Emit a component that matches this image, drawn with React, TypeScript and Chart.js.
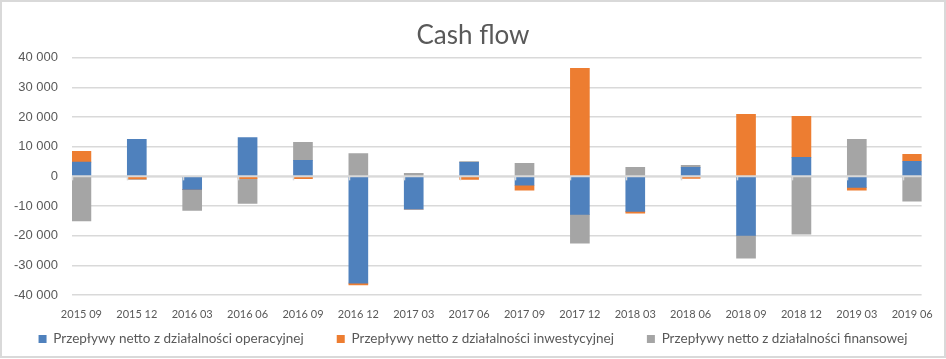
import React, { useEffect, useRef } from "react";
import { Chart, registerables } from "chart.js";

Chart.register(...registerables);

const categories = [
  "2015 09", "2015 12", "2016 03", "2016 06", "2016 09", "2016 12", "2017 03", "2017 06",
  "2017 09", "2017 12", "2018 03", "2018 06", "2018 09", "2018 12", "2019 03", "2019 06",
];
const operating = [4800, 12500, -4400, 13100, 5400, -36000, -11100, 4700, -3000, -12800, -11800, 3000, -19900, 6400, -3700, 5100];
const investing = [3600, -900, 0, -800, -800, -600, 0, -1000, -1700, 36400, -600, -700, 20900, 13800, -1000, 2300];
const financing = [-15000, -100, -7100, -8300, 6100, 7700, 1000, 300, 4400, -9700, 3000, 700, -7700, -19500, 12500, -8400];
const seriesNames = [
  "Przepływy netto z działalności operacyjnej",
  "Przepływy netto z działalności inwestycyjnej",
  "Przepływy netto z działalności finansowej",
];
const yTicks = [-40000, -30000, -20000, -10000, 0, 10000, 20000, 30000, 40000];

const colors = ["#4F81BD", "#ED7D31", "#A5A5A5"];
const textColor = "#595959";
const gridColor = "#D9D9D9";

function fmt(v: number): string {
  const s = String(Math.abs(v)).replace(/\B(?=(\d{3})+(?!\d))/g, " ");
  return v < 0 ? "-" + s : s;
}

const LEGEND_SHIFT = 35;

const layoutPlugin = {
  id: "excelLayout",
  afterLayout(chart: any) {
    const lg = chart.legend;
    if (lg) {
      lg.top -= LEGEND_SHIFT;
      lg.bottom -= LEGEND_SHIFT;
    }
  },
  afterDatasetsDraw(chart: any) {
    const { ctx, chartArea, scales } = chart;
    const y = scales.y.getPixelForValue(0);
    ctx.save();
    ctx.strokeStyle = gridColor;
    ctx.lineWidth = 2;
    ctx.beginPath();
    ctx.moveTo(chartArea.left, y);
    ctx.lineTo(chartArea.right, y);
    ctx.stroke();
    ctx.lineWidth = 1.5;
    categories.forEach((_, i) => {
      const x = Math.round(scales.x.getPixelForValue(i) - 9.5) + 0.5;
      ctx.beginPath();
      ctx.moveTo(x, y);
      ctx.lineTo(x, y + 4);
      ctx.stroke();
    });
    ctx.restore();
  },
};

export default function App() {
  const ref = useRef<HTMLCanvasElement>(null);
  useEffect(() => {
    if (!ref.current) return;
    const series = [operating, investing, financing];
    const chart = new Chart(ref.current, {
      type: "bar",
      data: {
        datasets: series.map((arr, k) => ({
          label: seriesNames[k],
          data: arr.map((y, i) => ({ x: i, y })),
          backgroundColor: colors[k],
          borderWidth: 0,
          barThickness: 19,
        })),
      },
      plugins: [layoutPlugin],
      options: {
        animation: false,
        responsive: false,
        devicePixelRatio: 1,
        layout: { padding: { left: 0, right: 0, top: 0, bottom: -31.7 } },
        plugins: {
          title: {
            display: true,
            text: "Cash flow",
            color: textColor,
            font: { family: "Lato", size: 26, weight: "normal" },
            padding: { top: 20, bottom: 6.5 },
          },
          legend: {
            position: "bottom",
            labels: {
              color: textColor,
              font: { family: "Lato", size: 13.5 },
              boxWidth: 8,
              boxHeight: 8,
              padding: 33,
            },
          },
          tooltip: { enabled: false },
        },
        scales: {
          x: {
            type: "linear",
            stacked: true,
            offset: false,
            min: -0.17,
            max: 15.17,
            grid: { display: false, drawTicks: false },
            border: { display: false },
            afterBuildTicks: (axis: any) => {
              axis.ticks = categories.map((_, i) => ({ value: i }));
            },
            ticks: {
              autoSkip: false,
              maxRotation: 0,
              padding: 13,
              color: textColor,
              font: { family: "Lato", size: 11 },
              callback: (v: any) => categories[v] ?? "",
            },
          },
          y: {
            stacked: true,
            min: -40000,
            max: 40000,
            afterBuildTicks: (axis: any) => {
              axis.ticks = yTicks.map((v) => ({ value: v }));
            },
            afterFit: (axis: any) => {
              axis.width = 72;
            },
            grid: { color: gridColor, lineWidth: 1.5, drawTicks: false },
            border: { display: false },
            ticks: {
              padding: 14,
              color: textColor,
              font: { family: "'Liberation Sans'", size: 13 },
              callback: (v: any) => fmt(Number(v)),
            },
          },
          yRight: {
            position: "right",
            display: true,
            grid: { display: false, drawTicks: false },
            border: { display: false },
            ticks: { display: false },
            afterFit: (axis: any) => {
              axis.width = 23;
            },
          },
        },
      },
    });
    return () => chart.destroy();
  }, []);
  return (
    <div style={{ position: "fixed", left: 0, top: 0, width: 946, height: 359, background: "#fff" }}>
      <canvas ref={ref} width={946} height={359} style={{ display: "block" }} />
      <div
        style={{
          position: "absolute",
          left: 0,
          top: 0,
          width: 946,
          height: 358,
          border: "2px solid #D9D9D9",
          boxSizing: "border-box",
          pointerEvents: "none",
        }}
      />
    </div>
  );
}
